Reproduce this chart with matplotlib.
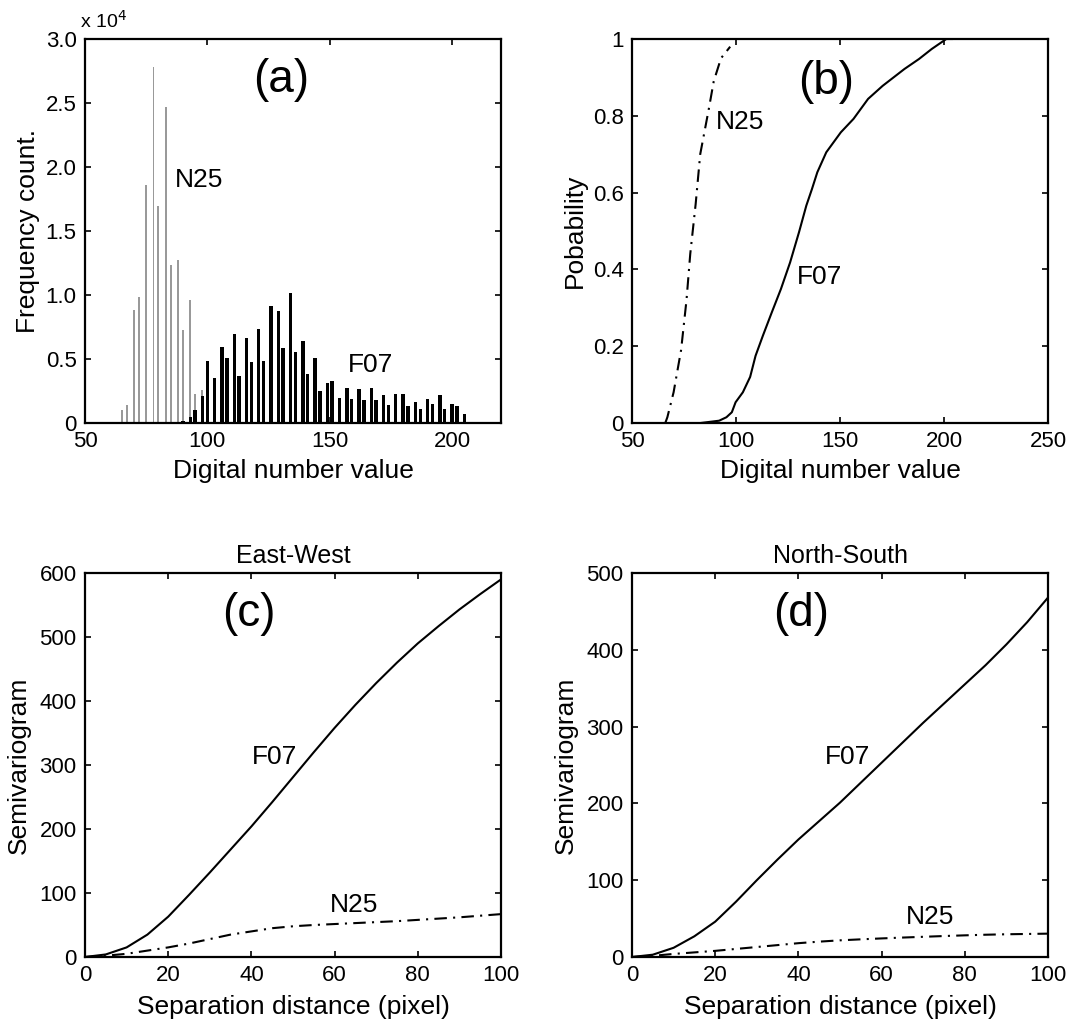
import matplotlib
matplotlib.use("Agg")
import matplotlib.pyplot as plt
from matplotlib.ticker import FuncFormatter

plt.rcParams['font.family'] = ['Liberation Sans', 'DejaVu Sans']

# (a) histogram - N25 (grey) and F07 (black), frequency counts
n25_dn = [65, 67, 70, 72, 75, 78, 80, 83, 85, 88, 90, 93, 95, 98]
n25_count = [1050, 1380, 8830, 9880, 18630, 27830, 16990, 24720, 12310, 12750,
             7260, 9620, 2300, 2560]

f07_dn = [88, 90, 93, 95, 98, 100, 103, 106, 108, 111, 113, 116, 118, 121, 123,
          126, 129, 131, 134, 136, 139, 141, 144, 146, 149, 151, 154, 157, 159,
          162, 164, 167, 169, 172, 174, 177, 180, 182, 185, 187, 190, 192, 195,
          197, 200, 202, 205, 208]
f07_count = [100, 150, 500, 1000, 2100, 4830, 3530, 5930, 5100, 6980, 3710, 6640,
             4730, 7370, 4830, 9170, 8780, 5840, 10170, 5540, 6420, 3860, 5070,
             2500, 3110, 3260, 1980, 2770, 1850, 2660, 1780, 2770, 1780, 2170,
             1410, 2300, 2250, 1360, 1670, 1070, 1900, 1460, 2190, 1100, 1510,
             1360, 680, 100]

# (b) cumulative probability
n25_cdf_dn = [66, 67, 70, 73.6, 76.2, 78, 80.6, 82.8, 84.9, 87, 89.3, 92.8, 97.2]
n25_cdf_p = [0, 0.015, 0.08, 0.19, 0.32, 0.44, 0.57, 0.70, 0.76, 0.82, 0.89, 0.95, 0.98]

f07_cdf_dn = [83, 91.9, 95.4, 98, 99.8, 103.3, 106.8, 109.4, 112.9, 117.2, 121.6,
              126, 130.3, 133.8, 136.5, 139.1, 143.4, 150.4, 156.5, 163.5, 170.5,
              181, 188, 194.1, 201.1, 203.7]
f07_cdf_p = [0, 0.006, 0.015, 0.028, 0.054, 0.08, 0.12, 0.175, 0.227, 0.288, 0.349,
             0.418, 0.497, 0.566, 0.609, 0.653, 0.705, 0.757, 0.792, 0.844, 0.878,
             0.922, 0.948, 0.974, 1.0, 1.0]

# (c), (d) semivariograms
lag = [0, 5, 10, 15, 20, 25, 30, 35, 40, 45, 50, 55, 60, 65, 70, 75, 80, 85, 90, 95, 100]
ew_f07 = [0, 4, 15, 35, 63, 97, 132, 168, 204, 242, 281, 320, 358, 394, 428, 460,
          490, 517, 543, 567, 590]
ew_n25 = [0, 2, 5, 10, 15, 21, 28, 35, 40, 45, 48, 50, 51.5, 53, 54.5, 56, 58, 60,
          62, 64.5, 67]
ns_f07 = [0, 3, 12, 27, 46, 72, 100, 127, 153, 177, 201, 227, 253, 279, 305, 330,
          355, 380, 407, 436, 468]
ns_n25 = [0, 1.5, 4, 6, 8, 10.5, 13, 15.5, 18, 20, 21.7, 23, 24.2, 25.3, 26.3, 27.3,
          28.2, 29, 29.6, 30, 30.4]

W, H = 1073, 1032
fig = plt.figure(figsize=(W / 100, H / 100), dpi=100)

def make_axes(x0, y_top):
    ax = fig.add_axes([x0 / W, 1 - (y_top + 384) / H, 416 / W, 384 / H])
    ax.tick_params(direction='in', top=True, right=True, length=4, width=1.2,
                   labelsize=16, pad=6)
    for s in ax.spines.values():
        s.set_linewidth(1.6)
    return ax

LAB = 19
TXT = 19
PANEL = 33
dashdot = (0, (6, 3, 1, 3))

# (a)
ax = make_axes(85, 39)
ax.bar(n25_dn, n25_count, width=0.8, color='0.6', linewidth=0)
ax.bar(f07_dn, f07_count, width=1.4, color='black', linewidth=0)
ax.set_xlim(50, 220)
ax.set_ylim(0, 30000)
ax.set_xticks([50, 100, 150, 200])
ax.set_yticks([0, 5000, 10000, 15000, 20000, 25000, 30000])
ax.yaxis.set_major_formatter(FuncFormatter(lambda v, p: '0' if v == 0 else f'{v / 1e4:.1f}'))
ax.set_xlabel('Digital number value', fontsize=LAB, labelpad=5)
ax.set_ylabel('Frequency count.', fontsize=LAB, labelpad=4)
ax.text(-0.012, 1.018, r'x 10$^{4}$', transform=ax.transAxes, fontsize=14,
        ha='left', va='bottom')
ax.text(130, 26800, '(a)', fontsize=PANEL, ha='center', va='center')
ax.text(86.7, 19000, 'N25', fontsize=TXT, ha='left', va='center')
ax.text(157.4, 4500, 'F07', fontsize=TXT, ha='left', va='center')

# (b)
ax = make_axes(632, 39)
ax.plot(n25_cdf_dn, n25_cdf_p, color='black', lw=1.5, linestyle=dashdot)
ax.plot(f07_cdf_dn, f07_cdf_p, color='black', lw=1.5)
ax.set_xlim(50, 250)
ax.set_ylim(0, 1)
ax.set_xticks([50, 100, 150, 200, 250])
ax.set_yticks([0, 0.2, 0.4, 0.6, 0.8, 1])
ax.yaxis.set_major_formatter(FuncFormatter(lambda v, p: f'{v:g}'))
ax.set_xlabel('Digital number value', fontsize=LAB, labelpad=5)
ax.set_ylabel('Pobability', fontsize=LAB, labelpad=4)
ax.text(143.4, 0.887, '(b)', fontsize=PANEL, ha='center', va='center')
ax.text(90.2, 0.783, 'N25', fontsize=TXT, ha='left', va='center')
ax.text(129.5, 0.38, 'F07', fontsize=TXT, ha='left', va='center')

# (c)
ax = make_axes(85, 573)
ax.plot(lag, ew_f07, color='black', lw=1.5)
ax.plot(lag, ew_n25, color='black', lw=1.5, linestyle=dashdot)
ax.set_xlim(0, 100)
ax.set_ylim(0, 600)
ax.set_xticks(range(0, 101, 20))
ax.set_yticks(range(0, 601, 100))
ax.set_xlabel('Separation distance (pixel)', fontsize=LAB, labelpad=6)
ax.set_ylabel('Semivariogram', fontsize=LAB, labelpad=6)
ax.set_title('East-West', fontsize=18, pad=7)
ax.text(39.4, 536, '(c)', fontsize=PANEL, ha='center', va='center')
ax.text(40.2, 312, 'F07', fontsize=TXT, ha='left', va='center')
ax.text(58.8, 81, 'N25', fontsize=TXT, ha='left', va='center')

# (d)
ax = make_axes(632, 573)
ax.plot(lag, ns_f07, color='black', lw=1.5)
ax.plot(lag, ns_n25, color='black', lw=1.5, linestyle=dashdot)
ax.set_xlim(0, 100)
ax.set_ylim(0, 500)
ax.set_xticks(range(0, 101, 20))
ax.set_yticks(range(0, 501, 100))
ax.set_xlabel('Separation distance (pixel)', fontsize=LAB, labelpad=6)
ax.set_ylabel('Semivariogram', fontsize=LAB, labelpad=6)
ax.set_title('North-South', fontsize=18, pad=7)
ax.text(40.6, 447, '(d)', fontsize=PANEL, ha='center', va='center')
ax.text(46.4, 260, 'F07', fontsize=TXT, ha='left', va='center')
ax.text(65.9, 52, 'N25', fontsize=TXT, ha='left', va='center')

fig.savefig('out.png', dpi=100)
